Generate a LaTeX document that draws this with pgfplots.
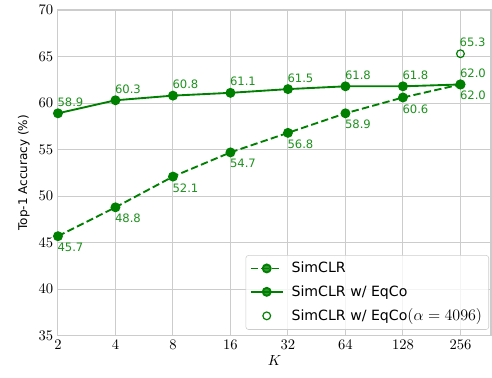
\documentclass[border=0pt]{standalone}
\usepackage{fontspec}
\setmainfont{DejaVu Sans}
\usepackage{pgfplots}
\pgfplotsset{compat=1.18}
\definecolor{lgreen}{RGB}{0,128,0}
\definecolor{tgreen}{RGB}{30,145,30}
\definecolor{gridgray}{RGB}{204,204,204}
\begin{document}
\begin{tikzpicture}
\begin{axis}[
  scale only axis,
  width=325pt, height=244.5pt,
  xmode=log, log basis x=2,
  xmin=2, xmax=370,
  ymin=35, ymax=70,
  xtick={2,4,8,16,32,64,128,256},
  xticklabels={$2$,$4$,$8$,$16$,$32$,$64$,$128$,$256$},
  ytick={35,40,45,50,55,60,65,70},
  yticklabels={$35$,$40$,$45$,$50$,$55$,$60$,$65$,$70$},
  tick label style={font=\fontsize{11}{13}\selectfont},
  major tick length=0pt,
  xmajorgrids, ymajorgrids,
  grid style={gridgray, line width=0.8pt},
  axis line style={gridgray, line width=0.8pt},
  xlabel={$K$},
  ylabel={Top-1 Accuracy (\%)},
  xlabel style={font=\fontsize{11}{12}\selectfont, yshift=3pt},
  ylabel style={font=\fontsize{9}{11}\selectfont, yshift=0pt},
  clip=false,
  legend style={at={(1,0)}, anchor=south east, xshift=-1.5pt, yshift=4.5pt,
    draw=gridgray, rounded corners=2pt, fill=white, fill opacity=0.8, text opacity=1,
    font=\fontsize{10.6}{12.5}\selectfont, row sep=4pt,
    inner xsep=3pt, inner ysep=3pt,
    /tikz/every odd column/.append style={column sep=4pt}},
  legend cell align=left,
  legend image code/.code={\draw[mark repeat=2,mark phase=2,#1] plot coordinates {(0cm,0cm) (0.42cm,0cm) (0.84cm,0cm)};},
]
\addplot[lgreen, line width=1.4pt, dashed, dash pattern=on 5.5pt off 2.5pt,
  mark=*, mark size=3pt, mark options={solid},
  nodes near coords={\pgfmathprintnumber[fixed,fixed zerofill,precision=1,assume math mode=true]{\pgfplotspointmeta}},
  every node near coord/.append style={tgreen, anchor=north west, inner sep=1pt, xshift=-2pt, yshift=-3.5pt, font=\fontsize{8.7}{10}\selectfont}]
coordinates {(2,45.7) (4,48.8) (8,52.1) (16,54.7) (32,56.8) (64,58.9) (128,60.6) (256,62.0)};
\addlegendentry{SimCLR}
\addplot[lgreen, line width=1.4pt,
  mark=*, mark size=3pt,
  nodes near coords={\pgfmathprintnumber[fixed,fixed zerofill,precision=1,assume math mode=true]{\pgfplotspointmeta}},
  every node near coord/.append style={tgreen, anchor=south west, inner sep=1pt, xshift=-2pt, yshift=3.5pt, font=\fontsize{8.7}{10}\selectfont}]
coordinates {(2,58.9) (4,60.3) (8,60.8) (16,61.1) (32,61.5) (64,61.8) (128,61.8) (256,62.0)};
\addlegendentry{SimCLR w/ EqCo}
\addplot[lgreen, line width=0.9pt, only marks, mark=o, mark size=2.9pt,
  nodes near coords={\pgfmathprintnumber[fixed,fixed zerofill,precision=1,assume math mode=true]{\pgfplotspointmeta}},
  every node near coord/.append style={tgreen, anchor=south west, inner sep=1pt, xshift=-2pt, yshift=3.5pt, font=\fontsize{8.7}{10}\selectfont}]
coordinates {(256,65.3)};
\addlegendentry{SimCLR w/ EqCo{\fontsize{11.5}{12}\selectfont$(\alpha=4096)$}}
\end{axis}
\pgfresetboundingbox
\path[use as bounding box] ([shift={(-43.5pt,-31pt)}]current axis.south west) rectangle ([shift={(0.75pt,7.5pt)}]current axis.north east);
\end{tikzpicture}
\end{document}
